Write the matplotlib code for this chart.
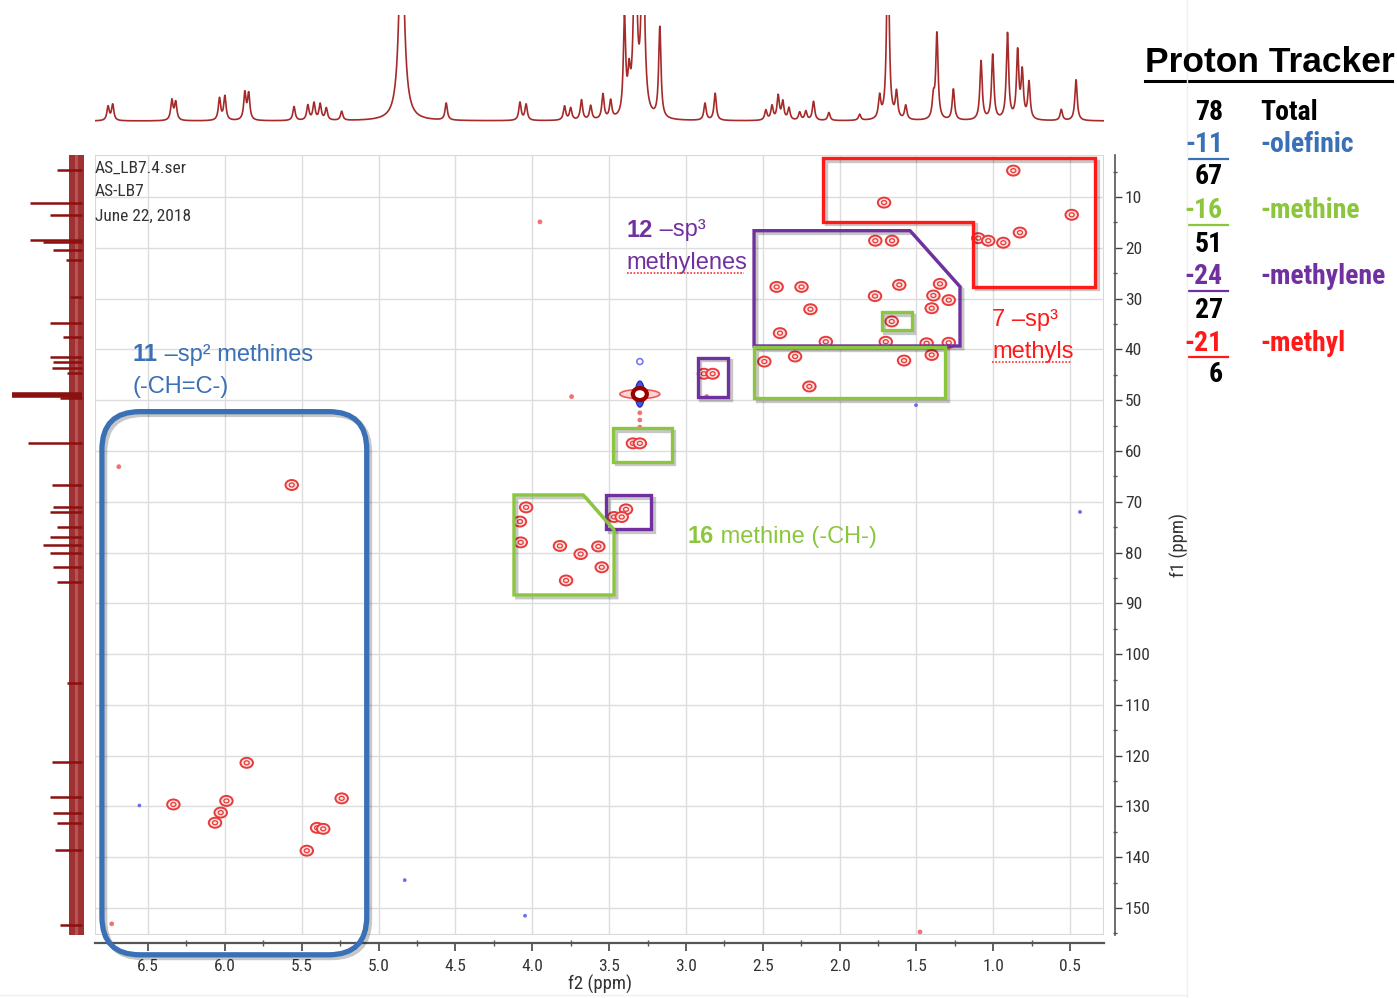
import numpy as np
import matplotlib
matplotlib.use("Agg")
import matplotlib.pyplot as plt
from matplotlib import font_manager as fm
from matplotlib.patches import Ellipse, Polygon, Rectangle, FancyBboxPatch
from matplotlib.transforms import IdentityTransform
import matplotlib.patheffects as pe

# ---------------- data ----------------
# 1H projection (top): peak positions (ppm), heights (px units), half widths (ppm)
H_PPM = [6.76, 6.73, 6.345, 6.32, 6.035, 6.00, 5.87, 5.845, 5.55, 5.46, 5.42, 5.38, 5.34,
         5.24, 4.85, 4.56, 4.08, 4.04, 3.79, 3.75, 3.68, 3.62, 3.54, 3.49, 3.40, 3.37, 3.33,
         3.28, 3.17, 2.876, 2.81, 2.48, 2.44, 2.40, 2.37, 2.33, 2.26, 2.22, 2.17, 2.07, 1.87,
         1.74, 1.686, 1.63, 1.57, 1.39, 1.367, 1.26, 1.08, 1.004, 0.908, 0.842, 0.812, 0.768,
         0.558, 0.462]
H_HEIGHT = [14, 16, 20, 18, 22, 24, 27, 26, 14, 15, 17, 16, 12,
            9, 200, 17, 18, 16, 14, 12, 20, 14, 25, 18, 96, 34, 200,
            200, 91, 17, 27, 10, 14, 24, 18, 12, 8, 9, 19, 8, 6,
            22, 200, 26, 14, 20, 86, 31, 59, 65, 86, 67, 46, 37,
            11, 41]
H_HWHM = [0.009] * len(H_PPM)
H_HWHM[14] = 0.02
H_HWHM[26] = 0.012
H_HWHM[27] = 0.012

# 13C projection (left): positions (ppm) and intensities
C_PPM = [4.7, 11.2, 13.5, 18.5, 18.9, 20.4, 22.4, 29.7, 34.8, 37.6, 41.5, 42.5, 43.7, 44.6,
         49.0, 49.6, 58.4, 66.7, 71.0, 72.0, 75.0, 76.9, 78.5, 80.1, 82.8, 85.8, 105.7,
         121.2, 128.1, 131.3, 133.2, 138.5, 153.3]
C_INT = [19, 46, 26, 46, 33, 23, 10, 6, 26, 13, 26, 23, 24, 9,
         64, 16, 48, 24, 23, 26, 19, 26, 33, 26, 23, 19, 9,
         24, 26, 23, 19, 21, 16]

# HSQC cross peaks (f2 = 1H ppm, f1 = 13C ppm)
CROSS_H = [0.87, 1.711, 0.49, 0.827, 1.098, 1.033, 0.935,
           1.768, 1.659, 2.41, 2.248, 1.612, 1.347, 1.77, 1.39, 1.29, 2.19, 1.401, 2.388,
           2.09, 1.70, 1.434, 1.29,
           1.661, 2.49, 2.29, 2.197, 1.581, 1.401,
           2.883, 2.826,
           3.345, 3.30,
           3.39, 3.468, 3.418,
           4.04, 4.08, 4.075, 3.82, 3.685, 3.57, 3.548, 3.78,
           5.565, 5.858, 6.335, 5.99, 6.027, 6.064, 5.24, 5.40, 5.36, 5.467]
CROSS_C = [4.8, 11.1, 13.5, 17.0, 18.1, 18.6, 19.0,
           18.6, 18.6, 27.7, 27.7, 27.3, 27.1, 29.5, 29.4, 30.3, 32.1, 31.9, 36.8,
           38.5, 38.5, 38.8, 38.7,
           34.5, 42.4, 41.4, 47.3, 42.2, 41.1,
           44.8, 44.8,
           58.5, 58.5,
           71.5, 73.0, 73.0,
           71.1, 73.9, 78.0, 78.7, 80.3, 78.8, 82.9, 85.5,
           66.7, 121.4, 129.6, 128.9, 131.2, 133.2, 128.4, 134.2, 134.4, 138.7]

TINY_RED_H = [6.69, 6.736, 3.95, 1.477, 3.744, 2.865, 3.30, 3.30, 3.30]
TINY_RED_C = [63.1, 153.1, 14.9, 154.7, 49.3, 49.3, 52.5, 53.9, 55.3]
TINY_BLUE_H = [6.556, 1.503, 0.436, 4.047, 4.83]
TINY_BLUE_C = [129.8, 51.0, 72.0, 151.5, 144.5]
SOLVENT = (3.30, 48.8)
SOLVENT_SAT = (3.30, 42.4)

# region outlines (ppm)
RED_REGION = [(2.106, 2.38), (0.339, 2.38), (0.339, 27.66), (1.13, 27.66), (1.13, 14.86), (2.106, 14.86)]
PURPLE_REGIONS = [
    [(2.557, 16.63), (1.542, 16.63), (1.217, 27.66), (1.217, 39.33), (2.557, 39.33)],
    [(2.924, 41.6), (2.724, 41.6), (2.724, 49.4), (2.924, 49.4)],
    [(3.52, 68.7), (3.227, 68.7), (3.227, 75.4), (3.52, 75.4)],
]
GREEN_REGIONS = [
    [(1.727, 32.7), (1.532, 32.7), (1.532, 36.2), (1.727, 36.2)],
    [(2.557, 39.5), (1.315, 39.5), (1.315, 49.6), (2.557, 49.6)],
    [(3.472, 55.5), (3.093, 55.5), (3.093, 62.1), (3.472, 62.1)],
    [(4.119, 68.66), (3.668, 68.66), (3.468, 75.55), (3.468, 88.35), (4.119, 88.35)],
]
BLUE_REGION = (6.80, 52.26, 5.077, 159.2)

TRACKER_COUNTS = ["78", "-11", "67", "-16", "51", "-24", "27", "-21", "6"]
TRACKER_LABELS = ["Total", "-olefinic", "", "-methine", "", "-methylene", "", "-methyl", ""]

X_TICKS = [6.5, 6.0, 5.5, 5.0, 4.5, 4.0, 3.5, 3.0, 2.5, 2.0, 1.5, 1.0, 0.5]
Y_TICKS = list(range(10, 151, 10))

X_MAX, X_MIN = 6.845, 0.280
Y_MIN, Y_MAX = 1.73, 155.3

# ---------------- fonts ----------------
def pick(names, default="DejaVu Sans"):
    for n in names:
        try:
            fm.findfont(fm.FontProperties(family=n), fallback_to_default=False)
            return n
        except Exception:
            pass
    return default

ARIAL = pick(["Liberation Sans", "Arimo"])
NARROW = pick(["Liberation Sans Narrow", "Roboto Condensed"], ARIAL)

W, H = 1397, 998
fig = plt.figure(figsize=(W / 100, H / 100), dpi=100)
fig.patch.set_facecolor("white")

def fpx(x, y):
    return x / W, 1 - y / H

RED = "#ff1a1a"
PURPLE = "#7030a0"
GREEN = "#8cc63f"
BLUE = "#3a70b5"
PEAK = "#e83b3b"

# ---------------- main axes ----------------
L, R, T, B = 95, 1104, 155, 935
ax = fig.add_axes([L / W, 1 - B / H, (R - L) / W, (B - T) / H])
ax.set_xlim(X_MAX, X_MIN)
ax.set_ylim(Y_MAX, Y_MIN)
SX = (R - L) / (X_MAX - X_MIN)
SY = (B - T) / (Y_MAX - Y_MIN)

for s in ["top", "left"]:
    ax.spines[s].set_visible(False)
ax.spines["bottom"].set_position(("outward", 6))
ax.spines["right"].set_position(("outward", 8))
ax.spines["bottom"].set_color("#555555")
ax.spines["right"].set_color("#555555")
ax.spines["bottom"].set_linewidth(1.6)
ax.spines["right"].set_linewidth(1.2)
ax.yaxis.tick_right()
ax.yaxis.set_label_position("right")
ax.set_xticks(X_TICKS)
ax.set_xticklabels([f"{v:.1f}" for v in X_TICKS])
ax.set_xticks(np.arange(6.75, 0.3, -0.5), minor=True)
ax.set_yticks(Y_TICKS)
ax.set_yticks(np.arange(5, 156, 10), minor=True)
ax.tick_params(axis="both", which="major", labelsize=12.5, colors="#444444", labelcolor="#333333")
ax.tick_params(axis="x", which="major", direction="out", length=6, width=1.2, pad=5)
ax.tick_params(axis="x", which="minor", direction="inout", length=4, width=1, colors="#555555")
ax.tick_params(axis="y", which="major", direction="out", length=5, width=1, pad=2)
ax.tick_params(axis="y", which="minor", direction="inout", length=3, width=1, colors="#555555")
for lab in ax.get_xticklabels() + ax.get_yticklabels():
    lab.set_family(NARROW)
ax.grid(True, which="major", color="#dcdcdc", lw=1.0)
ax.set_axisbelow(True)
ax.add_patch(Rectangle((0, 0), 1, 1, transform=ax.transAxes, fill=False, ec="#d8d8d8", lw=1.5, zorder=0.5))
ax.set_xlabel("f2 (ppm)", family=NARROW, fontsize=13.5, color="#333333", labelpad=1)
ax.set_ylabel("f1 (ppm)", family=NARROW, fontsize=13.5, color="#333333", labelpad=14)

ax.text(0.0, 0.983, "AS_LB7.4.ser", transform=ax.transAxes, family=NARROW, fontsize=12.5, color="#333333", va="center")
ax.text(0.0, 0.953, "AS-LB7", transform=ax.transAxes, family=NARROW, fontsize=12.5, color="#333333", va="center")
ax.text(0.0, 0.922, "June 22, 2018", transform=ax.transAxes, family=NARROW, fontsize=12.5, color="#333333", va="center")

def ell(x, y, wpx, hpx, **kw):
    ax.add_patch(Ellipse((x, y), wpx / SX, hpx / SY, **kw))

# cross peaks
for hx, cy in zip(CROSS_H, CROSS_C):
    ell(hx, cy, 12.5, 10, fc="#fce4e4", ec=PEAK, lw=1.4, zorder=3)
    ell(hx, cy, 5, 4, fc="none", ec=PEAK, lw=0.9, zorder=3)
for hx, cy in zip(TINY_RED_H, TINY_RED_C):
    ell(hx, cy, 4, 4, fc="#f07070", ec="#f07070", lw=0.5, zorder=3)
for hx, cy in zip(TINY_BLUE_H, TINY_BLUE_C):
    ell(hx, cy, 3, 3, fc="#6a6af0", ec="#6a6af0", lw=0.5, zorder=3)

# solvent
sx, sy = SOLVENT
ell(sx, sy, 40, 9, fc="#fbd4d4", ec="#ef5a5a", lw=1.2, zorder=3)
ell(sx, sy, 9, 26, fc="#4455dd", ec="#2233bb", lw=1.0, zorder=3)
ell(sx, sy, 14, 12, fc="white", ec="#9a0000", lw=3.0, zorder=4)
ell(SOLVENT_SAT[0], SOLVENT_SAT[1], 6, 6, fc="none", ec="#7777ee", lw=1.2, zorder=3)

shadow = [pe.SimpleLineShadow(offset=(2, -2), shadow_color="black", alpha=0.22), pe.Normal()]

ax.add_patch(Polygon(RED_REGION, closed=True, fill=False, ec=RED, lw=2.4, zorder=5, path_effects=shadow, clip_on=False))
for poly in PURPLE_REGIONS:
    ax.add_patch(Polygon(poly, closed=True, fill=False, ec=PURPLE, lw=2.4, zorder=5, path_effects=shadow))
for poly in GREEN_REGIONS:
    ax.add_patch(Polygon(poly, closed=True, fill=False, ec=GREEN, lw=2.4, zorder=5, path_effects=shadow))

# blue rounded region, drawn in pixel space so the corners are round
x0, y0, x1, y1 = BLUE_REGION
p0 = ax.transData.transform((x0, y1))
p1 = ax.transData.transform((x1, y0))
blue_box = FancyBboxPatch((p0[0], p0[1]), p1[0] - p0[0], p1[1] - p0[1],
                          boxstyle="round,pad=0,rounding_size=38", transform=IdentityTransform(),
                          fill=False, ec=BLUE, lw=3.8, zorder=6, path_effects=shadow)
fig.add_artist(blue_box)

# annotations
def two_part(x, y, bold, rest, color, size=17):
    t = ax.text(x, y, bold, color=color, fontsize=size, family=ARIAL, fontweight="bold", va="center", zorder=7)
    ax.annotate(rest, xycoords=t, xy=(1, 0.5), va="center", color=color, fontsize=size, family=ARIAL, zorder=7)

two_part(3.384, 16.5, "12", " \u2013sp\u00b3", PURPLE)
ax.text(3.384, 23.0, "methylenes", color=PURPLE, fontsize=17, family=ARIAL, va="center", zorder=7)
ax.plot([3.384, 2.62], [24.9, 24.9], color="#ff3030", lw=1.2, ls=(0, (1, 1)), zorder=7)
ax.text(1.009, 34.2, "7 \u2013sp\u00b3", color=RED, fontsize=17, family=ARIAL, va="center", zorder=7)
ax.text(1.009, 40.5, "methyls", color=RED, fontsize=17, family=ARIAL, va="center", zorder=7)
ax.plot([1.009, 0.49], [42.5, 42.5], color="#ff3030", lw=1.2, ls=(0, (1, 1)), zorder=7)
two_part(6.598, 41.1, "11", " \u2013sp\u00b2 methines", BLUE)
ax.text(6.598, 47.4, "(-CH=C-)", color=BLUE, fontsize=17, family=ARIAL, va="center", zorder=7)
two_part(2.987, 76.9, "16", " methine (-CH-)", GREEN)

# ---------------- top 1H projection ----------------
axt = fig.add_axes([L / W, 1 - 130 / H, (R - L) / W, 115 / H])
axt.set_xlim(X_MAX, X_MIN)
axt.set_ylim(-9, 106)
axt.axis("off")
xs = np.linspace(X_MAX, X_MIN, 6000)
ys = np.zeros_like(xs)
for p, h, w in zip(H_PPM, H_HEIGHT, H_HWHM):
    ys += h * w ** 2 / ((xs - p) ** 2 + w ** 2)
axt.plot(xs, ys, color="#a52a2a", lw=1.2)

# ---------------- left 13C projection ----------------
axl = fig.add_axes([10 / W, 1 - B / H, 85 / W, (B - T) / H])
axl.set_ylim(Y_MAX, Y_MIN)
axl.set_xlim(66, -19)
axl.axis("off")
axl.fill_betweenx([0.8, Y_MAX], -8, 7, color="#962020", alpha=0.92, lw=0)
axl.fill_betweenx([0.8, Y_MAX], -1.5, 1.0, color="#d07070", alpha=0.55, lw=0)
for c, i in zip(C_PPM, C_INT):
    lw = 4 if i > 60 else 1.8
    axl.plot([-6, i], [c, c], color="#8b1010", lw=lw, solid_capstyle="butt")

# ---------------- proton tracker ----------------
fig.text(*fpx(1145, 62), "Proton Tracker", family=ARIAL, fontweight="bold", fontsize=25.5,
         color="black", va="center", ha="left")
fig.add_artist(plt.Line2D([1145 / W, 1392 / W], [1 - 81 / H, 1 - 81 / H], color="black", lw=2.2))

row_colors = ["black", BLUE, "black", GREEN, "black", PURPLE, "black", RED, "black"]
row_y = [112, 145, 177, 211, 244, 277, 310, 343, 375]
for num, lab, col, y in zip(TRACKER_COUNTS, TRACKER_LABELS, row_colors, row_y):
    fig.text(*fpx(1223, y), num, family=NARROW, fontweight="bold", fontsize=20, color=col, va="center", ha="right")
    if lab:
        fig.text(*fpx(1260, y), lab, family=NARROW, fontweight="bold", fontsize=20, color=col, va="center", ha="left")
    if num.startswith("-"):
        fig.add_artist(plt.Line2D([1189 / W, 1228 / W], [1 - (y + 14) / H] * 2, color=col, lw=1.6))

# faint panel separators
fig.add_artist(plt.Line2D([1187 / W, 1187 / W], [0, 1], color="#f0f0f0", lw=1))
fig.add_artist(plt.Line2D([0, 1187 / W], [1 - 995 / H] * 2, color="#f0f0f0", lw=1))

fig.savefig("out.png", dpi=100, facecolor="white")
